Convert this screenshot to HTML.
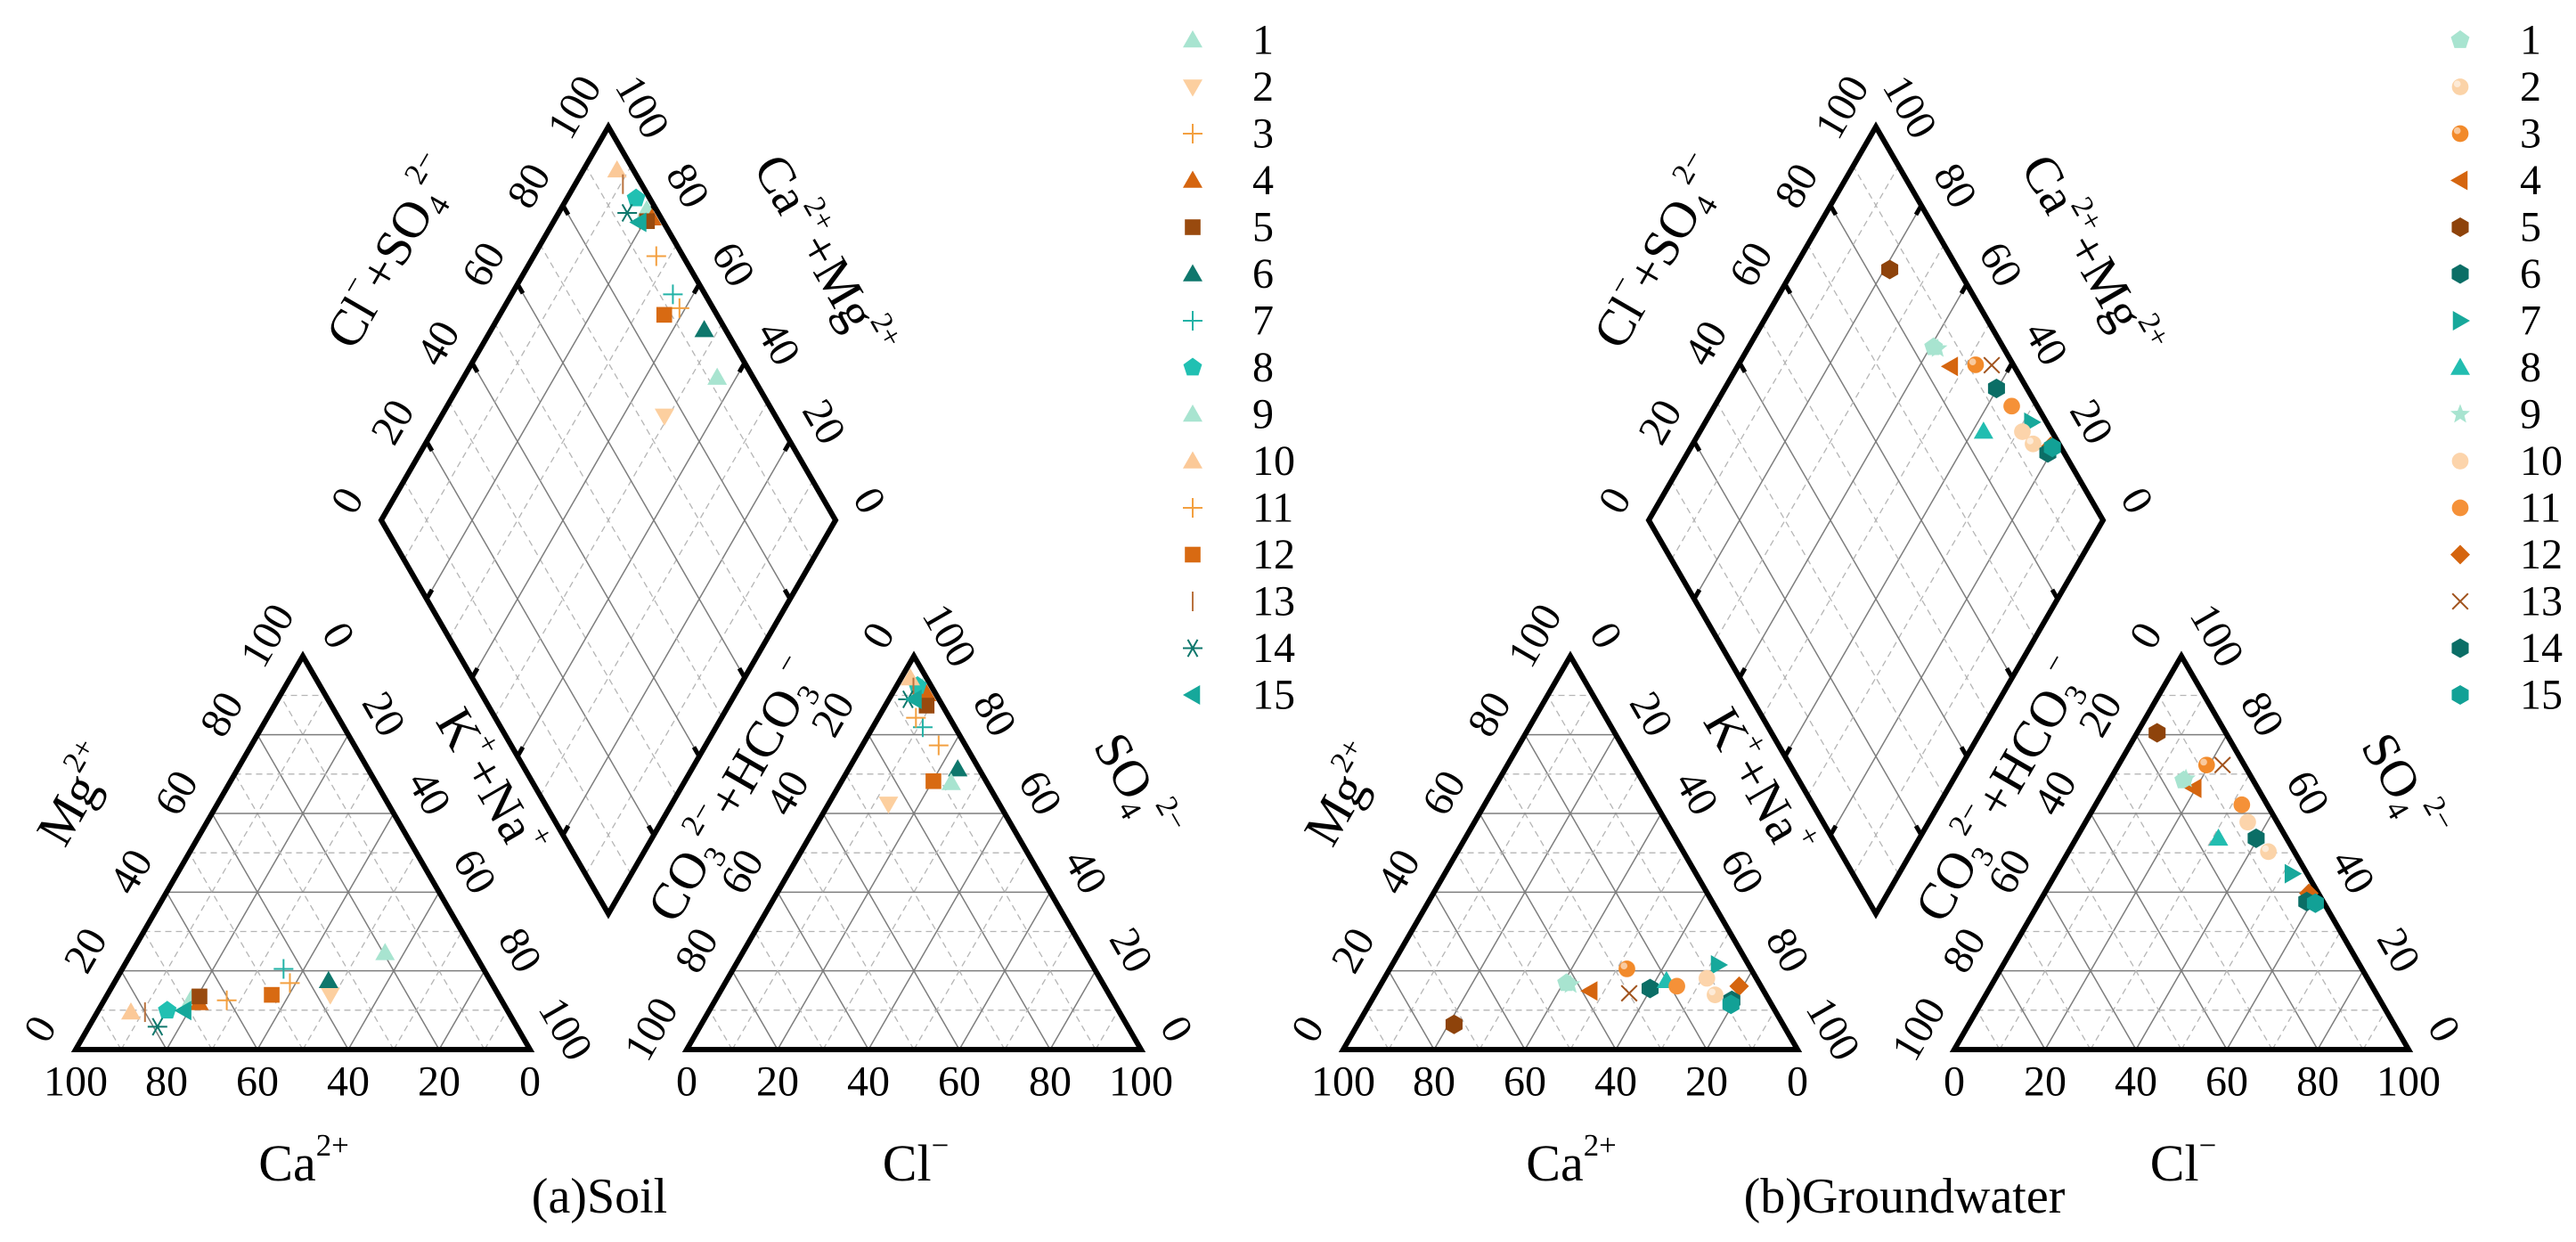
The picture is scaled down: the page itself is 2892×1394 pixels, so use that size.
<!DOCTYPE html>
<html><head><meta charset="utf-8"><style>
html,body{margin:0;padding:0;background:#fff;}
svg{display:block;font-family:"Liberation Serif",serif;}
svg text{font-family:"Liberation Serif",serif;}
</style></head><body>
<svg id="chart" xmlns="http://www.w3.org/2000/svg" width="2892" height="1394" viewBox="0 0 2892 1394" font-family="Liberation Serif, serif"></svg>
<script>
// ===== Data: soil (a) =====
const soilCa  = [68.0, 37.0, 60.5, 66.9, 66.0, 35.6, 44.0, 74.9, 19.6, 83.1, 44.4, 49.9, 80.0, 79.1, 71.2];
const soilMg  = [13.0, 13.9, 12.5, 11.9, 13.5, 17.5, 20.5,  9.9, 24.6,  9.5, 16.9, 13.9,  9.5,  5.8,  9.9];
const soilCl  = [ 5.9, 13.2, 16.8,  7.6,  9.1, 24.0, 11.0,  4.6, 24.3,  2.0,  8.3, 20.2,  3.9,  4.2,  5.6];
const soilSO4 = [92.0, 62.4, 77.3, 90.4, 87.4, 71.3, 81.9, 92.4, 67.8, 94.4, 84.3, 68.2, 92.0, 89.0, 89.0];
// ===== Data: groundwater (b) =====
const gwCa  = [42.4, 11.2, 27.3, 38.2, 72.4, 24.7,  6.7, 20.1, 41.7, 10.9, 18.5,  4.8, 29.9,  8.2,  8.9];
const gwMg  = [16.9, 13.9, 20.5, 14.9,  6.4, 15.5, 21.5, 17.5, 16.5, 18.1, 16.1, 16.1, 14.3, 12.5, 11.5];
const gwCl  = [16.3, 44.0, 19.4, 19.6,  4.4, 39.6, 52.0, 31.3, 16.6, 35.7, 32.2, 58.2, 22.9, 58.8, 60.9];
const gwSO4 = [68.4, 50.3, 72.3, 66.4, 80.5, 53.7, 44.7, 53.7, 68.8, 57.8, 62.2, 39.7, 72.3, 37.6, 37.2];
const sampleLabels = ["1","2","3","4","5","6","7","8","9","10","11","12","13","14","15"];
const tickValues = [0,20,40,60,80,100];

const soilShapes = ["tri","tridown","plus","tri","square","tri","plus","pentagon","tri","tri","plus","square","vline","asterisk","trileft"];
const soilColors = ["#a8e4d0","#fccf9f","#f3a040","#d5650f","#994a0e","#0e776c","#22b2a6","#21c0b2","#a8e4d0","#fbc998","#f3a040","#d86a12","#b9723e","#0e776c","#16a89b"];
const gwShapes = ["pentagon","sphere","sphere","trileft","hex","hex","triright","tri","star","circle","circle","diamond","x","hex","hex"];
const gwColors = ["#a8e4d0","#fbd3a8","#f28a2a","#d5650f","#8e430b","#0b6e66","#17a89b","#22bdb0","#a8e4d0","#fcd4ab","#f59138","#d5650f","#a0521c","#0b6e66","#12a196"];

const NS="http://www.w3.org/2000/svg";
const svg=document.getElementById('chart');
const FONT='"Liberation Serif", serif';
function el(tag,attrs,parent){const e=document.createElementNS(NS,tag);for(const k in attrs)e.setAttribute(k,attrs[k]);(parent||svg).appendChild(e);return e;}

const S=510, H=S*Math.sqrt(3)/2, BASE=1178, XL=85, XR=771;
const GAP=XR-(XL+S);
const DB=BASE-(GAP/2)*Math.sqrt(3);
const DCX=(XL+S+XR)/2;

function line(g,a,b,style){return el('line',Object.assign({x1:a[0],y1:a[1],x2:b[0],y2:b[1]},style),g);}
const solid={stroke:'#7d7d7d','stroke-width':1.5};
const dashed={stroke:'#b5b5b5','stroke-width':1.3,'stroke-dasharray':'7,5'};
function lerp(a,b,t){return [a[0]+(b[0]-a[0])*t,a[1]+(b[1]-a[1])*t];}

function triGrid(g,A,B,C){
  for(let k=10;k<100;k+=10){
    const st=(k%20===0)?solid:dashed, t=k/100;
    line(g,lerp(A,C,t),lerp(B,C,t),st);
    line(g,lerp(B,A,t),lerp(C,A,t),st);
    line(g,lerp(A,B,t),lerp(C,B,t),st);
  }
  el('polygon',{points:[A,B,C].map(p=>p.join(',')).join(' '),fill:'none',stroke:'#000','stroke-width':6,'stroke-linejoin':'miter'},g);
}

function label(g,txt,x,y,rot,size,name){
  const t=el('text',{x:0,y:0,transform:`translate(${x},${y}) rotate(${rot})`,'text-anchor':'middle','dominant-baseline':'central','font-size':size,'font-family':FONT,fill:'#000'},g);
  
  
  t.textContent=txt;return t;
}
function richLabel(g,parts,x,y,rot,size,name){
  const t=el('text',{x:0,y:0,transform:`translate(${x},${y}) rotate(${rot})`,'text-anchor':'middle','dominant-baseline':'central','font-size':size,'font-family':FONT,fill:'#000'},g);
  
  
  parts.forEach(p=>{const s=el('tspan',{},t);s.textContent=p[0];
    if(p[1]==='sup'){s.setAttribute('baseline-shift','super');s.setAttribute('font-size',size*0.6);}
    if(p[1]==='sub'){s.setAttribute('baseline-shift','sub');s.setAttribute('font-size',size*0.6);}});
  return t;
}
function edgeLabels(g,start,end,nrm,vals,rot,off,name){
  vals.forEach((v,i)=>{const p=lerp(start,end,i/(vals.length-1));
    label(g,String(v),p[0]+nrm[0]*off,p[1]+nrm[1]*off,rot,48,name);});
}

function marker(g,shape,x,y,c,s){
  let e;const pts=a=>a.map(p=>(x+p[0]*s)+','+(y+p[1]*s)).join(' ');
  switch(shape){
    case 'tri': e=el('polygon',{points:pts([[0,-1],[1,0.75],[-1,0.75]]),fill:c},g);break;
    case 'tridown': e=el('polygon',{points:pts([[0,1],[1,-0.75],[-1,-0.75]]),fill:c},g);break;
    case 'trileft': e=el('polygon',{points:pts([[-1,0],[0.75,-1],[0.75,1]]),fill:c},g);break;
    case 'triright': e=el('polygon',{points:pts([[1,0],[-0.75,-1],[-0.75,1]]),fill:c},g);break;
    case 'square': e=el('rect',{x:x-0.8*s,y:y-0.8*s,width:1.6*s,height:1.6*s,fill:c},g);break;
    case 'diamond': e=el('polygon',{points:pts([[0,-1],[1,0],[0,1],[-1,0]]),fill:c},g);break;
    case 'pentagon':{const a=[];for(let i=0;i<5;i++){const t=-Math.PI/2+i*2*Math.PI/5;a.push([Math.cos(t),Math.sin(t)]);}e=el('polygon',{points:pts(a),fill:c},g);break;}
    case 'hex':{const a=[];for(let i=0;i<6;i++){const t=-Math.PI/2+i*Math.PI/3;a.push([Math.cos(t),Math.sin(t)]);}e=el('polygon',{points:pts(a),fill:c},g);break;}
    case 'star':{const a=[];for(let i=0;i<10;i++){const t=-Math.PI/2+i*Math.PI/5,r=i%2?0.45:1.05;a.push([r*Math.cos(t),r*Math.sin(t)]);}e=el('polygon',{points:pts(a),fill:c},g);break;}
    case 'circle': e=el('circle',{cx:x,cy:y,r:0.85*s,fill:c},g);break;
    case 'sphere': e=el('g',{},g);el('circle',{cx:x,cy:y,r:0.85*s,fill:c},e);el('circle',{cx:x-0.3*s,cy:y-0.3*s,r:0.35*s,fill:'#fff','fill-opacity':0.55},e);break;
    case 'plus': e=el('path',{d:`M${x-s} ${y}H${x+s}M${x} ${y-s}V${y+s}`,stroke:c,'stroke-width':2,fill:'none'},g);break;
    case 'x': e=el('path',{d:`M${x-0.8*s} ${y-0.8*s}L${x+0.8*s} ${y+0.8*s}M${x+0.8*s} ${y-0.8*s}L${x-0.8*s} ${y+0.8*s}`,stroke:c,'stroke-width':2,fill:'none'},g);break;
    case 'vline': e=el('path',{d:`M${x} ${y-s}V${y+s}`,stroke:c,'stroke-width':2,fill:'none'},g);break;
    case 'asterisk': e=el('path',{d:`M${x-s} ${y}H${x+s}M${x-0.5*s} ${y-0.87*s}L${x+0.5*s} ${y+0.87*s}M${x+0.5*s} ${y-0.87*s}L${x-0.5*s} ${y+0.87*s}`,stroke:c,'stroke-width':2,fill:'none'},g);break;
  }
  return e;
}

function panel(ox,name,title,Ca,Mg,Cl,SO4,shapes,colors){
  const g=el('g',{transform:`translate(${ox},0)`});
  
  
  const cA=[XL,BASE],cB=[XL+S,BASE],cC=[XL+S/2,BASE-H];
  const cg=el('g',{},g);
  triGrid(cg,cA,cB,cC);
  const aA=[XR,BASE],aB=[XR+S,BASE],aC=[XR+S/2,BASE-H];
  const ag=el('g',{},g);
  triGrid(ag,aA,aB,aC);
  const dB=[DCX,DB],dR=[DCX+S/2,DB-H],dL=[DCX-S/2,DB-H],dT=[DCX,DB-2*H];
  const dg=el('g',{},g);
  for(let k=10;k<100;k+=10){const st=(k%20===0)?solid:dashed,t=k/100;
    line(dg,lerp(dB,dR,t),lerp(dL,dT,t),st);
    line(dg,lerp(dB,dL,t),lerp(dR,dT,t),st);}
  el('polygon',{points:[dB,dR,dT,dL].map(p=>p.join(',')).join(' '),fill:'none',stroke:'#000','stroke-width':6},dg);
  for(let k=20;k<100;k+=20){const t=k/100;
    [[dB,dR,dL,dT],[dL,dT,dB,dR],[dB,dL,dR,dT],[dR,dT,dB,dL]].forEach(([p,q,r,s2])=>{
      const a=lerp(p,q,t),b=lerp(r,s2,t),dir=[b[0]-a[0],b[1]-a[1]],len=Math.hypot(dir[0],dir[1]);
      line(dg,a,[a[0]+dir[0]/len*12,a[1]+dir[1]/len*12],{stroke:'#000','stroke-width':5});
    });}
  const nL=[-0.866,-0.5],nR=[0.866,-0.5];
  edgeLabels(g,cA,cB,[0,1],[100,80,60,40,20,0],0,36,'ca-tick-label');
  edgeLabels(g,cA,cC,nL,tickValues,-60,46,'mg-tick-label');
  edgeLabels(g,cC,cB,nR,tickValues,60,46,'na-k-tick-label');
  edgeLabels(g,aA,aB,[0,1],tickValues,0,36,'cl-tick-label');
  edgeLabels(g,aC,aA,nL,tickValues,-60,46,'co3-hco3-tick-label');
  edgeLabels(g,aB,aC,nR,tickValues,60,46,'so4-tick-label');
  edgeLabels(g,dL,dT,nL,tickValues,-60,44,'cl-so4-tick-label');
  edgeLabels(g,dR,dT,nR,tickValues,60,44,'ca-mg-tick-label');
  richLabel(g,[["Ca"],["2+","sup"]],341,1305,0,58,'ca-axis-title');
  richLabel(g,[["Cl"],["−","sup"]],1028,1305,0,58,'cl-axis-title');
  richLabel(g,[["Mg"],["2+","sup"]],85,892,-60,58,'mg-axis-title');
  richLabel(g,[["K"],["+","sup"],["+Na"],["+","sup"]],551,878,60,58,'na-k-axis-title');
  richLabel(g,[["CO"],["3","sub"],["2−","sup"],["+HCO"],["3","sub"],["−","sup"]],823,887,-60,58,'co3-hco3-axis-title');
  richLabel(g,[["SO"],["4","sub"],["2−","sup"]],1276,883,60,58,'so4-axis-title');
  richLabel(g,[["Cl"],["−","sup"],["+SO"],["4","sub"],["2−","sup"]],439,283,-60,58,'cl-so4-axis-title');
  richLabel(g,[["Ca"],["2+","sup"],["+Mg"],["2+","sup"]],925,287,60,58,'ca-mg-axis-title');
  label(g,title,ox===0?673:715,1343,0,56,'panel-title');
  const pg=el('g',{},g);
  for(let i=0;i<Ca.length;i++){
    const na=100-Ca[i]-Mg[i];
    const cx=XL+(na+Mg[i]/2)/100*S, cy=BASE-Mg[i]/100*H;
    const ax=XR+(Cl[i]+SO4[i]/2)/100*S, ay=BASE-SO4[i]/100*H;
    const u=(Cl[i]+SO4[i])/100, v=(Ca[i]+Mg[i])/100;
    const dx=DCX+(u-v)*S/2, dy=DB-(u+v)*H;
    [[cx,cy,'cation'],[ax,ay,'anion'],[dx,dy,'diamond']].forEach(([x,y,w])=>{
      const m=marker(pg,shapes[i],x,y,colors[i],11);
      
      
    });
  }
  const lg=el('g',{},g);
  for(let i=0;i<sampleLabels.length;i++){
    const y=45+52.5*i;
    const m=marker(lg,shapes[i],1339,y,colors[i],11);
    
    
    const t=el('text',{x:1406,y:y,'dominant-baseline':'central','font-size':48,'font-family':FONT,fill:'#000'},lg);
    
    
    t.textContent=sampleLabels[i];
  }
}
panel(0,'soil-panel','(a)Soil',soilCa,soilMg,soilCl,soilSO4,soilShapes,soilColors);
panel(1423,'groundwater-panel','(b)Groundwater',gwCa,gwMg,gwCl,gwSO4,gwShapes,gwColors);
</script>
</body></html>
